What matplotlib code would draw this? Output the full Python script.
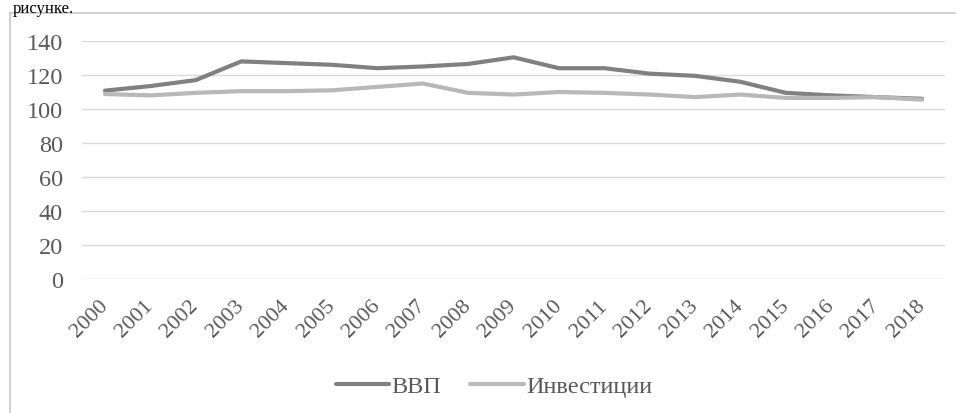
import matplotlib
matplotlib.use("Agg")
import matplotlib.pyplot as plt
from matplotlib.lines import Line2D

# data
years = [str(y) for y in range(2000, 2019)]
gdp = [110.8, 113.5, 117.0, 128.0, 127.0, 126.0, 124.0, 125.0, 126.5, 130.4,
       124.0, 124.0, 120.8, 119.5, 116.0, 109.5, 108.0, 107.0, 106.0]
invest = [108.8, 108.0, 109.5, 110.5, 110.5, 111.0, 113.0, 115.0, 109.5, 108.5,
          110.0, 109.5, 108.5, 107.0, 108.5, 106.5, 106.5, 107.0, 105.5]
yticks = [0, 20, 40, 60, 80, 100, 120, 140]

W, H = 957, 414
plt.rcParams['font.family'] = ['Liberation Serif', 'DejaVu Serif']

fig = plt.figure(figsize=(W / 100, H / 100), dpi=100)

# piece of the document text above the chart
fig.text(13 / W, 1 - 13 / H, "рисунке.", fontsize=12, ha='left',
         va='baseline', color='black')

# chart frame (left and top edges visible)
fig.add_artist(Line2D([10 / W, 10 / W], [0, 1 - 14 / H], color='#c8c8c8', lw=1.2))
fig.add_artist(Line2D([10 / W, 955 / W], [1 - 14 / H, 1 - 14 / H], color='#c8c8c8', lw=1.2))

left, right = 82.3, 944.7
top, bottom = 42, 280
ax = fig.add_axes([left / W, 1 - bottom / H, (right - left) / W, (bottom - top) / H])

x = range(len(years))
ax.plot(x, gdp, color='#808080', lw=3, label='ВВП', solid_capstyle='round')
ax.plot(x, invest, color='#b8b8b8', lw=3, label='Инвестиции', solid_capstyle='round')

ax.set_xlim(-0.5, len(years) - 0.5)
ax.set_ylim(0, 140)
ax.set_yticks(yticks)
ax.set_xticks(list(x))
ax.set_xticklabels(years, rotation=45, ha='right', va='center', rotation_mode='anchor')
ax.grid(axis='y', color='#d9d9d9', lw=1)
ax.set_axisbelow(True)
for s in ax.spines.values():
    s.set_visible(False)
ax.tick_params(axis='y', length=0, pad=14, labelsize=17.5, labelcolor='#595959')
ax.tick_params(axis='x', length=0, pad=17, labelsize=16, labelcolor='#595959')

leg = fig.legend(loc='center', bbox_to_anchor=(494 / W, 1 - 387 / H), ncol=2,
                 frameon=False, fontsize=17.5, handlelength=2.2, handletextpad=0.1,
                 columnspacing=1.2)
for t in leg.get_texts():
    t.set_color('#595959')

plt.savefig("out.png", dpi=100)
plt.close()
